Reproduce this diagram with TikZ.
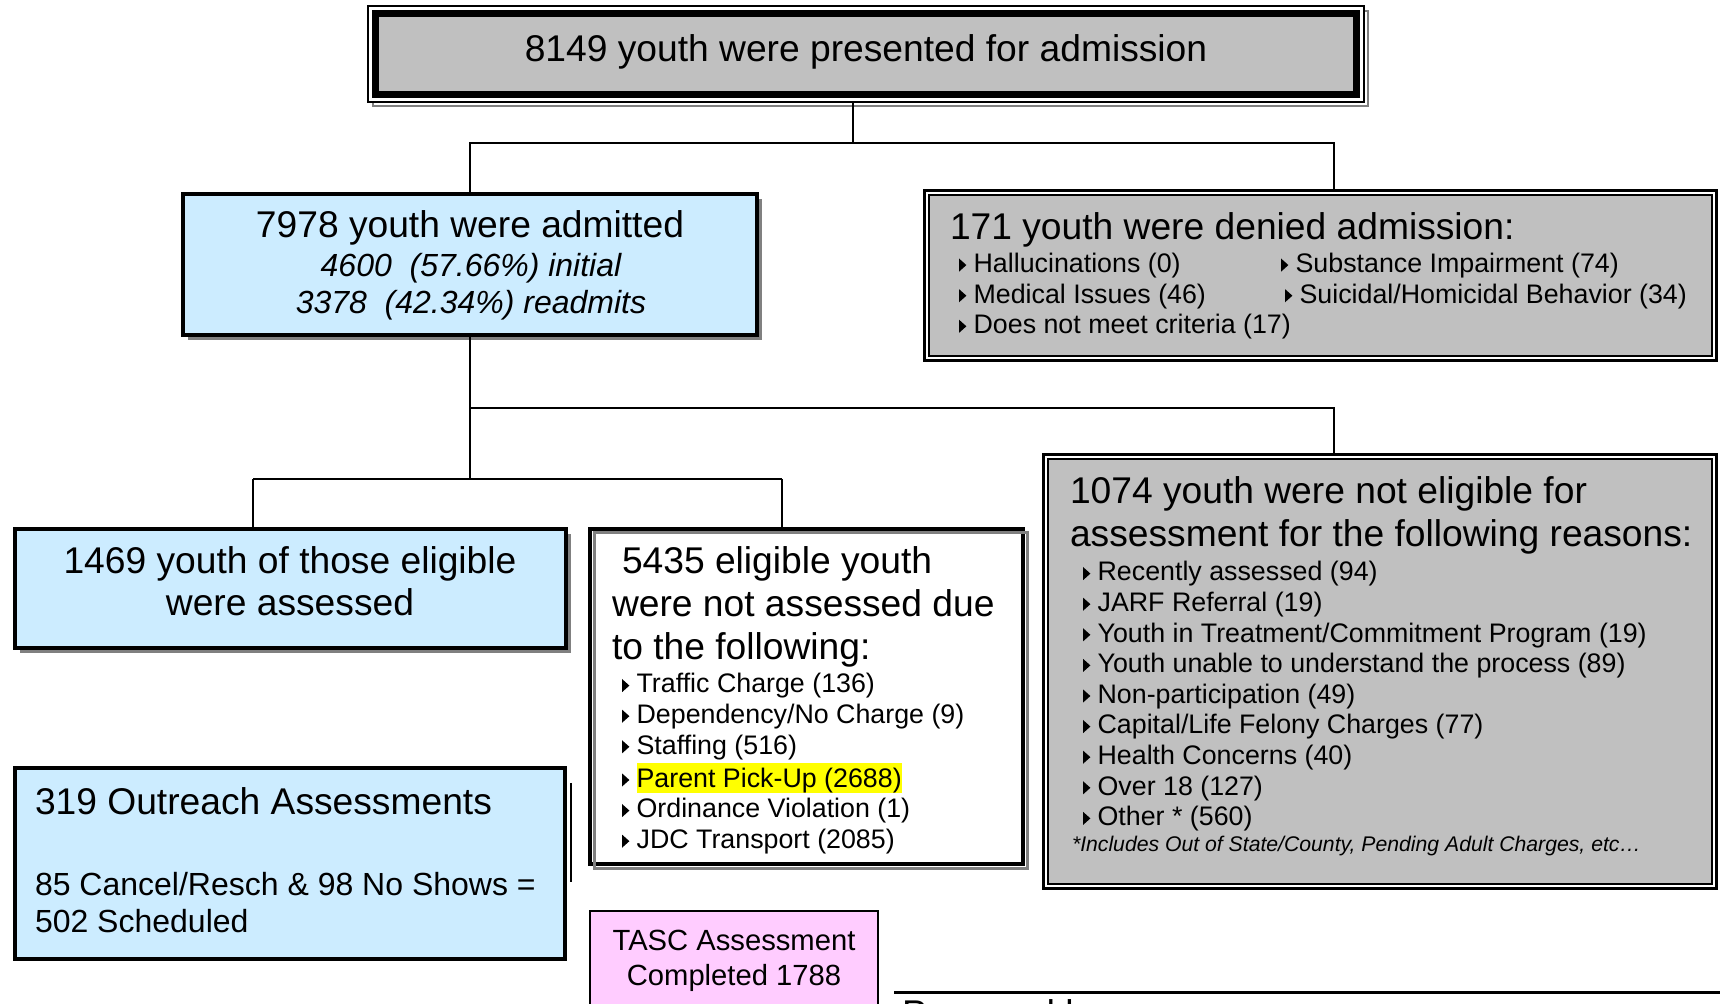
\documentclass[tikz,border=0pt]{standalone}
\usepackage{fontspec}
\setmainfont{Liberation Sans}
\usetikzlibrary{fit,shadows}
\definecolor{lblue}{RGB}{204,236,255}
\definecolor{boxgray}{RGB}{192,192,192}
\definecolor{shgray}{RGB}{128,128,128}
\definecolor{pinkbox}{RGB}{255,204,255}
\definecolor{hl}{RGB}{255,255,0}
\newcommand\fbig{\fontsize{18.6}{21.4}\selectfont}
\newcommand\fmid{\fontsize{16}{18.5}\selectfont}
\newcommand\fsmall{\fontsize{13.4}{15.3}\selectfont}
\newcommand\ftasc{\fontsize{14.6}{17}\selectfont}
\newcommand\fnote{\fontsize{10.6}{12}\selectfont}
\newcommand\tri{\tikz[x=1pt,y=1pt,baseline=0pt]\fill (0,0.4)--(0,7.0)--(3.7,3.7)--cycle;\hspace{3.6pt}}
\setlength\fboxsep{0pt}
\setlength\tabcolsep{0pt}
\begin{document}
\begin{tikzpicture}[x=0.5pt,y=-0.5pt,
  conn/.style={line width=0.75pt},
  boxbase/.style={inner sep=0pt, outer sep=0pt},
  bluebox/.style={boxbase, draw, line width=1.8pt, fill=lblue},
  shad/.style={drop shadow={shadow xshift=2.5pt, shadow yshift=-2.5pt, fill=shgray, opacity=1}},
  outerframe/.style={boxbase, draw, fill=white},
  grayinner/.style={boxbase, draw, line width=0.6pt, fill=boxgray},
  txt/.style={inner sep=0pt, outer sep=0pt, anchor=base west},
  ctxt/.style={inner sep=0pt, outer sep=0pt, anchor=base}]
\useasboundingbox (0,0) rectangle (1720,1004);

% ---------- top box ----------
\node[boxbase, draw=shgray, line width=0.8pt, fit={(373,11) (1368,106)}] (topsh) {};
\node[outerframe, line width=0.6pt, fit={(368,6) (1364,102)}] (topo) {};
\node[boxbase, draw, line width=3.5pt, fill=boxgray, fit={(375.5,13.5) (1356.5,94.5)}] (top) {};
\node[ctxt] (toptxt) at (866,62) {\fbig 8149 youth were presented for admission};

% ---------- admitted ----------
\node[bluebox, shad, fit={(183,194) (757,335)}] (adm) {};
\node[ctxt] (admt1) at (470,238) {\fbig 7978 youth were admitted};
\node[ctxt] (admt2) at (471,276.5) {\fmid\itshape 4600\ \ (57.66\%) initial};
\node[ctxt] (admt3) at (471,313.5) {\fmid\itshape 3378\ \ (42.34\%) readmits};

% ---------- denied ----------
\node[outerframe, line width=1.5pt, fit={(924.5,190.5) (1716.5,360.5)}] (den) {};
\node[grayinner, fit={(929,195) (1712,356)}] (deni) {};
\node[txt] (dent) at (950,240) {\fbig 171 youth were denied admission:};
\node[txt] (denl1) at (959,272.5) {\fsmall\begin{tabular}[t]{l}
\tri Hallucinations (0)\\
\tri Medical Issues (46)\\
\tri Does not meet criteria (17)\end{tabular}};
\node[txt] (denl2) at (1281,272.5) {\fsmall\begin{tabular}[t]{l}
\tri Substance Impairment (74)\\
\hspace{2pt}\tri Suicidal/Homicidal Behavior (34)\end{tabular}};

% ---------- not eligible ----------
\node[outerframe, line width=1.5pt, fit={(1043.5,454.5) (1716.5,888.5)}] (nel) {};
\node[grayinner, fit={(1048,459) (1712,884)}] (neli) {};
\node[txt] (nelt) at (1070,504) {\fbig\begin{tabular}[t]{l}
1074 youth were not eligible for\\
assessment for the following reasons:\end{tabular}};
\node[txt] (nell) at (1083,581) {\fsmall\begin{tabular}[t]{l}
\tri Recently assessed (94)\\
\tri JARF Referral (19)\\
\tri Youth in Treatment/Commitment Program (19)\\
\tri Youth unable to understand the process (89)\\
\tri Non-participation (49)\\
\tri Capital/Life Felony Charges (77)\\
\tri Health Concerns (40)\\
\tri Over 18 (127)\\
\tri Other * (560)\end{tabular}};
\node[txt] (nelf) at (1072,851.5) {\fnote\itshape *Includes Out of State/County, Pending Adult Charges, etc…};

% ---------- assessed ----------
\node[bluebox, shad, fit={(15,529) (566,648)}] (ass) {};
\node[ctxt] (asst1) at (290,574) {\fbig 1469 youth of those eligible};
\node[ctxt] (asst2) at (290,616) {\fbig were assessed};

% ---------- not assessed ----------
\node[boxbase, draw, line width=2pt, fill=white, fit={(590,529) (1023,864)}] (nas) {};
\node[boxbase, draw=shgray, line width=1.5pt, fit={(594.5,532.5) (1027,868.5)}] (nassh) {};
\node[txt] (nast) at (612,574) {\fbig\begin{tabular}[t]{l}
\hspace*{5pt}5435 eligible youth\\
were not assessed due\\
to the following:\end{tabular}};
\node[txt] (nasl) at (622,693) {\fsmall\begin{tabular}[t]{l}
\tri Traffic Charge (136)\\
\tri Dependency/No Charge (9)\\
\tri Staffing (516)\\
\tri \colorbox{hl}{\rule[-3pt]{0pt}{15pt}Parent Pick-Up (2688)}\\
\tri Ordinance Violation (1)\\
\tri JDC Transport (2085)\end{tabular}};

% ---------- outreach ----------
\node[bluebox, fit={(15,768) (565,959)}] (out) {};
\node[txt] (outt1) at (35,815) {\fbig 319 Outreach Assessments};
\node[txt] (outt2) at (35,895.5) {\fmid 85 Cancel/Resch \& 98 No Shows =};
\node[txt] (outt3) at (35,932.5) {\fmid 502 Scheduled};
\coordinate (vl1) at (571,783);
\coordinate (vl2) at (571,882);
\draw[line width=0.75pt] (vl1) -- (vl2);

% ---------- TASC ----------
\node[boxbase, draw, line width=0.75pt, fill=pinkbox, fit={(590,911) (878,1012)}] (tasc) {};
\node[ctxt] (tasct) at (734,950.5) {\ftasc\begin{tabular}[t]{c}
TASC Assessment\\[0.5pt]
Completed 1788\end{tabular}};

% ---------- bottom rule ----------
\coordinate (bl1) at (894,993);
\coordinate (bl2) at (1720,993);
\draw[line width=1.5pt] (bl1) -- (bl2);
\node[txt] (prep) at (902,1026.5) {\fbig Prepared by};

% ---------- connectors ----------
\coordinate (j1) at (853,143);
\coordinate (j1r) at (1334,143);
\draw[conn] (j1 |- topo.south) -- (j1) -| (adm.north);
\draw[conn] (j1) -- (j1r) -- (j1r |- den.north);
\coordinate (j2) at (470,408);
\coordinate (j2r) at (1334,408);
\coordinate (j3) at (470,479);
\coordinate (j3l) at (253,479);
\coordinate (j3r) at (782,479);
\draw[conn] (adm.south) -- (j3);
\draw[conn] (j2) -- (j2r) -- (j2r |- nel.north);
\draw[conn] (j3l) -- (j3r);
\draw[conn] (j3l) -- (j3l |- ass.north);
\draw[conn] (j3r) -- (j3r |- nas.north);
\end{tikzpicture}
\end{document}
